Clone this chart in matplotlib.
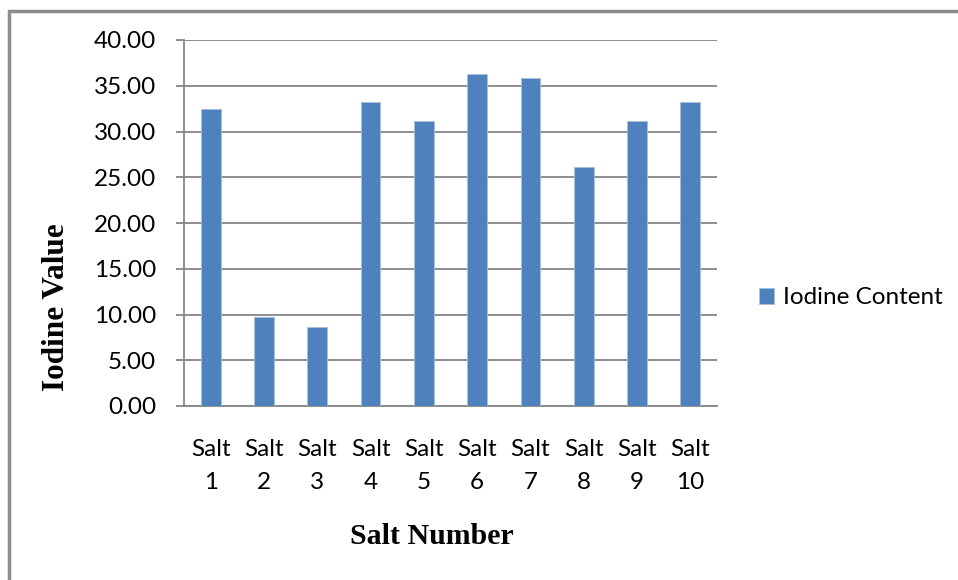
import matplotlib
matplotlib.use("Agg")
import matplotlib.pyplot as plt
from matplotlib.patches import Rectangle

# Iodine content of ten salt samples
categories = ["Salt\n1", "Salt\n2", "Salt\n3", "Salt\n4", "Salt\n5",
              "Salt\n6", "Salt\n7", "Salt\n8", "Salt\n9", "Salt\n10"]
iodine_content = [32.5, 9.7, 8.6, 33.2, 31.15, 36.3, 35.8, 26.1, 31.15, 33.2]
y_ticks = [0, 5, 10, 15, 20, 25, 30, 35, 40]
series_name = "Iodine Content"

W, H = 958, 580
fig = plt.figure(figsize=(W / 100, H / 100), dpi=100)

# outer chart frame
fig.patches.append(Rectangle((9 / W, -0.1), 2.0, (H - 11) / H + 0.1,
                             transform=fig.transFigure, fill=False,
                             edgecolor="#8c8c8c", linewidth=2.5))

ax = fig.add_axes([184 / W, 1 - 406 / H, (717 - 184) / W, (406 - 40) / H])

bar_color = "#4f81bd"
x = list(range(len(categories)))
ax.bar(x, iodine_content, width=0.37, color=bar_color,
       edgecolor="#a7c0de", linewidth=0.6, zorder=3, label=series_name)

tick_font = {"family": "Lato", "size": 17.5}
ax.set_xlim(-0.5, len(categories) - 0.5)
ax.set_ylim(0, 40)
ax.set_yticks(y_ticks)
ax.set_yticklabels([f"{v:.2f}" for v in y_ticks], **tick_font)
ax.set_xticks(x)
ax.set_xticklabels(categories, linespacing=1.7, **tick_font)

grid_c = "#868686"
ax.yaxis.grid(True, color=grid_c, linewidth=1.3, zorder=0)
for s in ["top", "right"]:
    ax.spines[s].set_visible(False)
ax.spines["left"].set_color(grid_c)
ax.spines["left"].set_linewidth(1.3)
ax.spines["bottom"].set_color(grid_c)
ax.spines["bottom"].set_linewidth(1.3)
ax.tick_params(axis="y", length=6, width=1.3, color=grid_c, pad=14)
ax.tick_params(axis="x", length=0, pad=24)

fig.text(57 / W, 1 - 307 / H, "Iodine Value", rotation=90, ha="center",
         va="center", family="Liberation Serif", fontweight="bold", fontsize=22.5)
fig.text(432 / W, 1 - 537 / H, "Salt Number", ha="center", va="center",
         family="Liberation Serif", fontweight="bold", fontsize=21.5)

leg = fig.legend(loc="center left", bbox_to_anchor=(759 / W, 1 - 298 / H),
                 frameon=False, prop={"family": "Lato", "size": 17.5},
                 handlelength=0.62, handleheight=0.62, handletextpad=0.35,
                 borderaxespad=0, borderpad=0)

fig.savefig("out.png", dpi=100)
